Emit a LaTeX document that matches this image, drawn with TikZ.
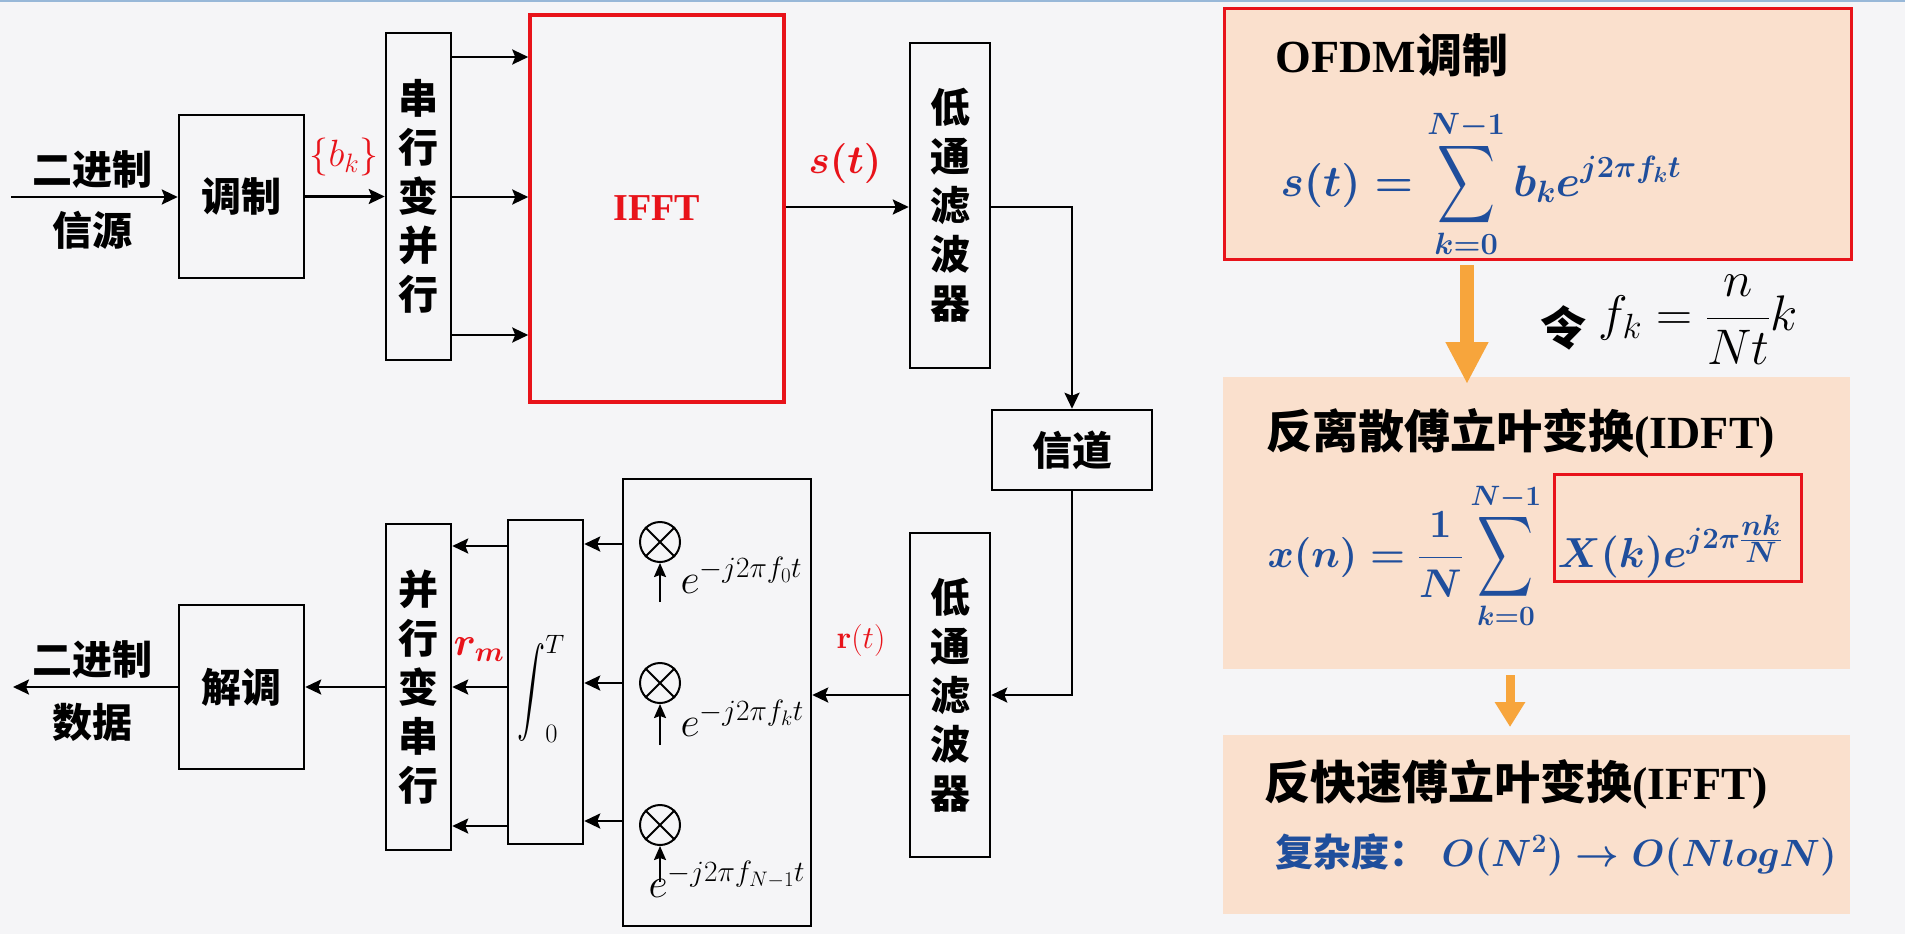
\RequirePackage{fix-cm}
\documentclass[tikz,border=0pt]{standalone}
\usepackage{amsmath,bm,graphicx}
\usepackage[no-math]{fontspec}
\newfontfamily\cjk{Noto Sans CJK SC}
\newfontfamily\tnr{Liberation Serif}
\usetikzlibrary{arrows.meta,calc}
\definecolor{bg}{HTML}{F5F5F7}
\definecolor{peach}{HTML}{FAE0CD}
\definecolor{myred}{HTML}{E8131A}
\definecolor{myblue}{HTML}{1F4E9C}
\definecolor{myorange}{HTML}{F7A53C}
\definecolor{topline}{HTML}{98B8D8}
\newcommand{\bigop}[3]{\mathop{\vcenter{\hbox{\resizebox*{#1}{#2}{$\displaystyle#3$}}}}}
\begin{document}
\begin{tikzpicture}[x=1pt,y=-1pt,
  blk/.style={draw, line width=2.5pt, inner sep=0pt, align=center},
  cjkt/.style={font=\cjk\bfseries\fontsize{40}{49}\selectfont},
  arr/.style={line width=2.5pt, -{Stealth[length=16pt,width=15pt,inset=3pt]}},
  arrs/.style={line width=2pt, -{Stealth[length=14pt,width=12pt,inset=2pt]}},
  lbl/.style={text=myred},
  panel/.style={fill=peach, inner sep=0pt, anchor=north west, minimum width=627pt},
  mulc/.style={draw, circle, line width=2pt, minimum size=40pt, inner sep=0pt},
  expl/.style={anchor=base west, font=\fontsize{42}{48}\selectfont},
  bigt/.style={font=\fontsize{46}{50}\selectfont}
]
\fill[bg] (0,0) rectangle (1905,934);
\fill[topline] (0,0) rectangle (1905,2.5);
\useasboundingbox (0,0) rectangle (1905,934);

% row coordinates
\coordinate (r57) at (0,57);
\coordinate (r197) at (0,197);
\coordinate (r335) at (0,335);
\coordinate (r207) at (0,207);
\coordinate (r544) at (0,544);
\coordinate (r683) at (0,683);
\coordinate (r821) at (0,821);
\coordinate (r546) at (0,546);
\coordinate (r687) at (0,687);
\coordinate (r826) at (0,826);

% ---- transmitter ----
\node (src1) [cjkt] at (92,170) {二进制};
\node (src2) [cjkt] at (92,230) {信源};
\coordinate (in) at (11,197);
\node (mod) [blk, cjkt, minimum width=125pt, minimum height=163pt] at (241.5,196.5) {调制};
\node (sp) [blk, cjkt, minimum width=65pt, minimum height=327pt] at (418.5,196.5) {串\\行\\变\\并\\行};
\node (ifft) [draw=myred, line width=3.5pt, minimum width=254pt, minimum height=387pt, inner sep=0pt,
  font=\tnr\bfseries\fontsize{38}{40}\selectfont, text=myred] at (657,208.5) {IFFT};
\node (lpf1) [blk, cjkt, minimum width=80pt, minimum height=325pt] at (950,205.5) {低\\通\\滤\\波\\器};
\node (ch) [blk, cjkt, minimum width=160pt, minimum height=80pt] at (1072,450) {信道};

\draw[arr] (in) -- (in -| mod.west);
\draw[arr] (mod.east) -- (mod.east -| sp.west);
\draw[arr] (sp.east |- r57) -- (ifft.west |- r57);
\draw[arr] (sp.east |- r197) -- (ifft.west |- r197);
\draw[arr] (sp.east |- r335) -- (ifft.west |- r335);
\draw[arr] (ifft.east |- r207) -- (lpf1.west |- r207);
\draw[arr] (lpf1.east |- r207) -| (ch.north);

\node (bk) [lbl, font=\fontsize{38}{42}\selectfont] at (344,157) {$\{b_k\}$};
\node (st) [lbl, font=\fontsize{40}{44}\selectfont] at (845,163) {$\bm{s(t)}$};

% ---- receiver ----
\node (lpf2) [blk, cjkt, minimum width=80pt, minimum height=324pt] at (950,695) {低\\通\\滤\\波\\器};
\node (mul) [blk, minimum width=188pt, minimum height=447pt] at (717,702.5) {};
\node (integ) [blk, minimum width=75pt, minimum height=324pt] at (545.5,682) {};
\node (intsym) [font=\fontsize{38}{44}\selectfont] at (541,689) {$\bigop{28pt}{98pt}{\int}\nolimits_0^T$};
\node (ps) [blk, cjkt, minimum width=65pt, minimum height=326pt] at (418.5,687) {并\\行\\变\\串\\行};
\node (demod) [blk, cjkt, minimum width=125pt, minimum height=164pt] at (241.5,687) {解调};
\node (dst1) [cjkt] at (92,660) {二进制};
\node (dst2) [cjkt] at (92,722) {数据};
\coordinate (out) at (13,687);

\node (m1) [mulc] at (660,542) {};
\node (m2) [mulc] at (660,683) {};
\node (m3) [mulc] at (660,825) {};
\foreach \m in {m1,m2,m3}{
  \draw[line width=2pt] (\m.north west) -- (\m.south east) (\m.north east) -- (\m.south west);
}
\coordinate (e1) at (660,602);
\coordinate (e2) at (660,745);
\coordinate (e3) at (660,882);
\draw[arrs] (e1) -- (m1.south);
\draw[arrs] (e2) -- (m2.south);
\draw[arrs] (e3) -- (m3.south);
\node (x1) [expl] at (677,593) {$e^{-j2\pi f_0 t}$};
\node (x2) [expl] at (677,736) {$e^{-j2\pi f_k t}$};
\node (x3) [expl] at (645,897) {$e^{-j2\pi f_{N-1} t}$};

\draw[arr] (ch.south) |- (lpf2.east);
\draw[arr] (lpf2.west) -- (mul.east |- lpf2.west);
\draw[arr] (mul.west |- r544) -- (integ.east |- r544);
\draw[arr] (mul.west |- r683) -- (integ.east |- r683);
\draw[arr] (mul.west |- r821) -- (integ.east |- r821);
\draw[arr] (integ.west |- r546) -- (ps.east |- r546);
\draw[arr] (integ.west |- r687) -- (ps.east |- r687);
\draw[arr] (integ.west |- r826) -- (ps.east |- r826);
\draw[arr] (ps.west) -- (demod.east);
\draw[arr] (demod.west) -- (out);

\node (rt) [lbl, font=\fontsize{32}{36}\selectfont] at (861,640) {$\mathbf{r}(t)$};
\node (rm) [lbl, font=\fontsize{40}{44}\selectfont] at (479,650) {$\bm{r}_{\bm m}$};

% ---- right panel ----
\node (ofdm) [panel, draw=myred, line width=3pt, minimum height=251pt] at (1223,7) {};
\node (idft) [panel, minimum height=292pt] at (1223,377) {};
\node (fft) [panel, minimum height=179pt] at (1223,735) {};

\node (t1) [anchor=west, bigt] at (1272,55) {{\tnr\bfseries OFDM}{\cjk\bfseries 调制}};
\node (f1) [anchor=base west, text=myblue, font=\fontsize{44}{50}\selectfont] at (1277,196)
  {{\boldmath$\displaystyle s(t)=\bigop{58pt}{87pt}{\sum}\limits_{k=0}^{N-1} b_k e^{j2\pi f_k t}$}};

\coordinate (oax) at (1467,0);
\draw[myorange, line width=14pt, -{Triangle[length=42pt,width=40pt]}]
  ($(ofdm.south -| oax)+(0,4)$) -- ($(idft.north -| oax)+(0,7)$);
\node (ling) [anchor=west, font=\cjk\bfseries\fontsize{46}{50}\selectfont] at (1537,328) {令};
\node (fk) [anchor=west, font=\fontsize{50}{56}\selectfont] at (1595,320) {$f_k=\dfrac{n}{Nt}k$};

\node (t2) [anchor=west, bigt] at (1263,433) {{\cjk\bfseries 反离散傅立叶变换}{\tnr\bfseries (IDFT)}};
\node (f2a) [anchor=base west, text=myblue, font=\fontsize{40}{46}\selectfont] at (1264,567)
  {{\boldmath$\displaystyle x(n)=\frac{1}{N}\bigop{56pt}{90pt}{\sum}\limits_{k=0}^{N-1}$}};
\node (f2b) [anchor=base west, text=myblue, font=\fontsize{42}{48}\selectfont] at (1554,567)
  {{\boldmath$X(k)e^{j2\pi\frac{\scriptstyle nk}{\scriptstyle N}}$}};
\node (xkbox) [draw=myred, line width=3pt, minimum width=247pt, minimum height=107pt, inner sep=0pt, anchor=north west] at (1553,473) {};

\coordinate (obx) at (1510,0);
\draw[myorange, line width=9pt, -{Triangle[length=25pt,width=29pt]}]
  ($(idft.south -| obx)+(0,6)$) -- ($(fft.north -| obx)+(0,-8)$);

\node (t3) [anchor=west, bigt] at (1261,784) {{\cjk\bfseries 反快速傅立叶变换}{\tnr\bfseries (IFFT)}};
\node (cx) [anchor=west, text=myblue, font=\fontsize{38}{44}\selectfont] at (1272,855)
  {{\cjk\bfseries 复杂度：}\hspace{14pt}{\boldmath$O(N^2)\rightarrow O(NlogN)$}};
\end{tikzpicture}
\end{document}
